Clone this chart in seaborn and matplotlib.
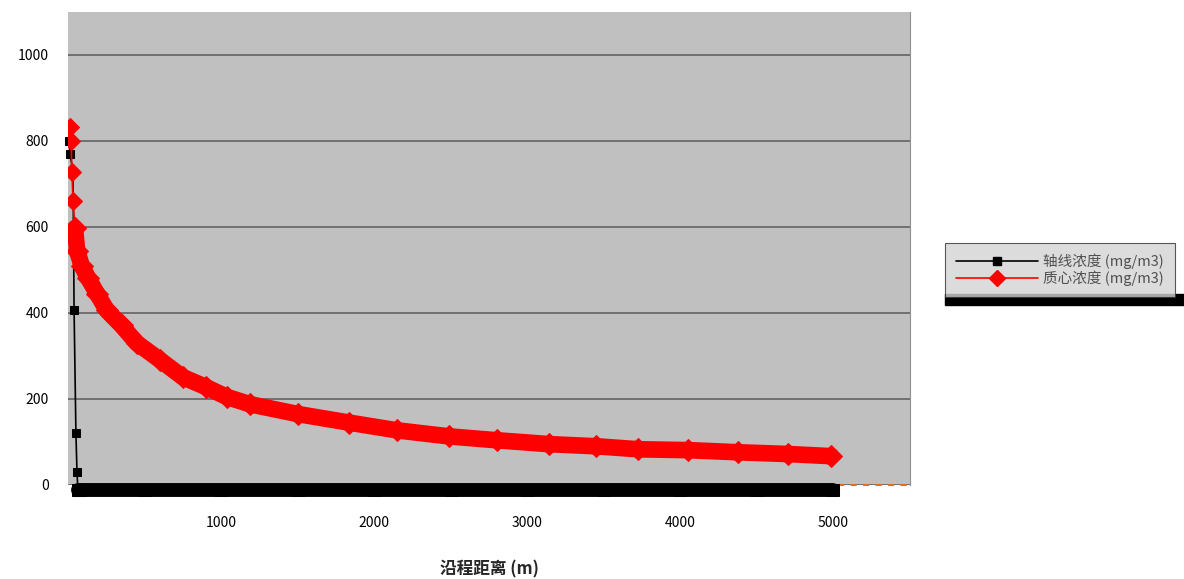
import numpy as np
import pandas as pd
import matplotlib
matplotlib.use('Agg')
import matplotlib.pyplot as plt
import seaborn as sns
from matplotlib.lines import Line2D
from matplotlib.patches import Rectangle

# series
red_x = [13, 20, 26, 33, 46, 60, 90, 130, 190, 254, 350, 450, 600, 749, 900,
         1036, 1186, 1500, 1837, 2150, 2489, 2800, 3140, 3450, 3726, 4050,
         4378, 4700, 4984]
red_y = [833, 800, 729, 660, 597, 544, 510, 482, 445, 406, 371, 330, 291, 251,
         228, 205, 188, 165, 145, 127, 113, 104, 95, 90, 83, 81, 76, 72, 67]

black_x = [10, 13, 33, 40, 52, 59, 65, 80, 500, 1000, 1500, 2000, 2500, 3000,
           3500, 4000, 4500, 5000]
black_y = [800, 770, 729, 406, 120, 30, -12, -12, -12, -12, -12, -12, -12,
           -12, -12, -12, -12, -12]

tail_x = [5030, 5500]
tail_y = [0, 0]

x_ticks = [1000, 2000, 3000, 4000, 5000]
y_ticks = [0, 200, 400, 600, 800, 1000]

series_names = ['轴线浓度 (mg/m3)', '质心浓度 (mg/m3)']
x_label = '沿程距离 (m)'

sns.set_style('white')
plt.rcParams['font.family'] = ['Noto Sans CJK SC', 'DejaVu Sans']

fig = plt.figure(figsize=(11.84, 5.79), dpi=100)
ax = fig.add_axes([0.0574, 0.1624, 0.7112, 0.8169])
ax.set_facecolor('#c0c0c0')

df_black = pd.DataFrame({'x': black_x, 'y': black_y})
df_red = pd.DataFrame({'x': red_x, 'y': red_y})

# the rising start of each series is thin; the dense part reads as a thick band
sns.lineplot(data=df_black, x='x', y='y', ax=ax, color='black', sort=False,
             linewidth=1.2, marker='s', markersize=6, markeredgecolor='black',
             clip_on=False, zorder=3)
sns.lineplot(data=df_black.iloc[6:], x='x', y='y', ax=ax, color='black',
             sort=False, linewidth=10, marker='s', markersize=8,
             markeredgecolor='black', clip_on=False, zorder=3)
sns.lineplot(data=df_red, x='x', y='y', ax=ax, color='red', sort=False,
             linewidth=1.2, marker='D', markersize=9, markeredgecolor='red',
             zorder=4)
sns.lineplot(data=df_red.iloc[4:], x='x', y='y', ax=ax, color='red',
             sort=False, linewidth=12, marker='D', markersize=11,
             markeredgecolor='red', zorder=4)
ax.plot(tail_x, tail_y, color='#e07020', linestyle=(0, (3, 3)), linewidth=1.5,
        clip_on=False, zorder=2)

ax.set_xlim(0, 5500)
ax.set_ylim(0, 1100)
ax.set_xticks(x_ticks)
ax.set_yticks(y_ticks)
ax.yaxis.grid(True, color='#6a6a6a', linewidth=1.3)
ax.set_axisbelow(True)
ax.tick_params(axis='both', length=0, labelsize=10, colors='black', pad=22)
ax.tick_params(axis='y', pad=14)
for s in ['top', 'left', 'bottom']:
    ax.spines[s].set_visible(False)
ax.spines['right'].set_color('#909090')
ax.set_xlabel(x_label, fontsize=12, fontweight='bold', labelpad=22)
ax.set_ylabel('')

handles = [
    Line2D([0], [0], color='black', lw=1.2, marker='s', markersize=6),
    Line2D([0], [0], color='red', lw=1.2, marker='D', markersize=8),
]
# dark band under the legend box
fig.patches.append(Rectangle((945 / 1184, 1 - 305 / 579), 240 / 1184, 11 / 579,
                             transform=fig.transFigure, color='black',
                             zorder=0))
leg = fig.legend(handles, series_names, loc='upper left',
                 bbox_to_anchor=(945 / 1184, 1 - 243 / 579), frameon=True,
                 fontsize=10.5, handlelength=5.6, labelspacing=0.05,
                 borderpad=0.75, handletextpad=0.4, borderaxespad=0,
                 fancybox=False)
leg.get_frame().set_facecolor('#d4d4d4')
leg.get_frame().set_edgecolor('#303030')
leg.get_frame().set_linewidth(0.8)
for t in leg.get_texts():
    t.set_color('#505050')

fig.savefig('out.png', dpi=100)
